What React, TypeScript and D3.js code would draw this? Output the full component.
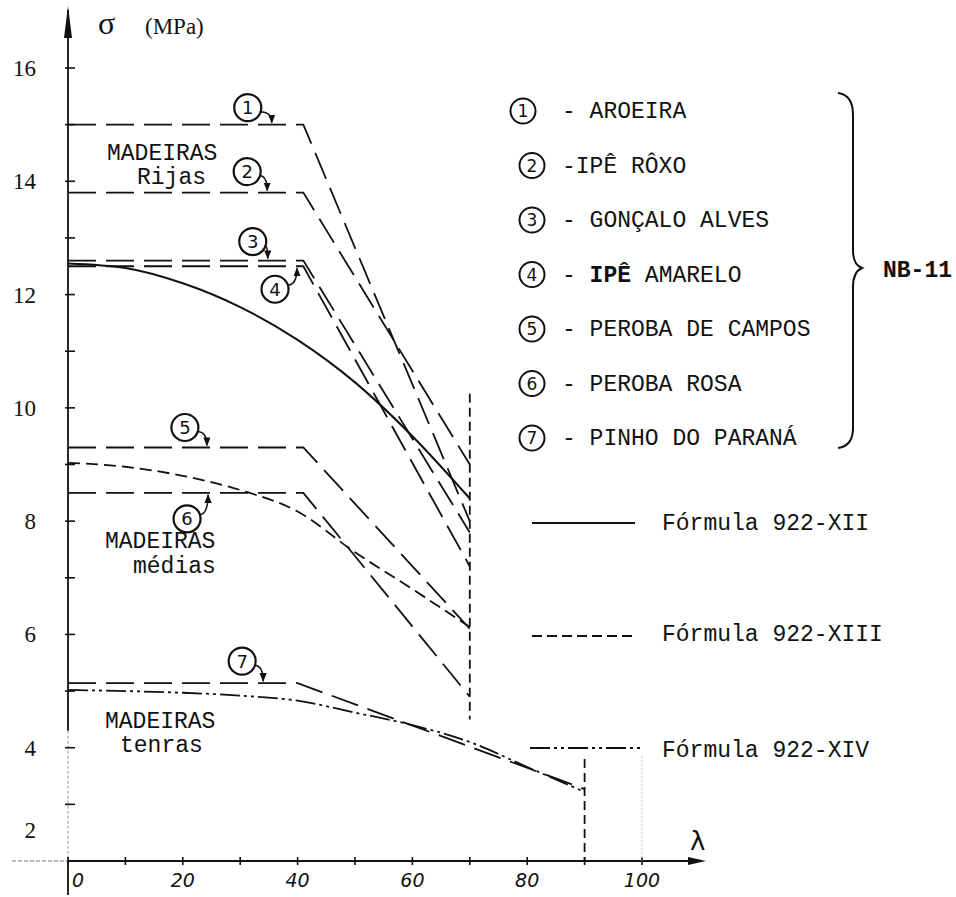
import React from "react";
import * as d3 from "d3";

// NB-11 species (long dashed lines): plateau, bend at lambda, end value
const species = ["AROEIRA", "IPÊ RÔXO", "GONÇALO ALVES", "IPÊ AMARELO", "PEROBA DE CAMPOS", "PEROBA ROSA", "PINHO DO PARANÁ"];
const plateau = [15.0, 13.8, 12.6, 12.5, 9.3, 8.5, 5.14];
const bendLambda = [41, 41, 41, 41, 41, 41, 40];
const endLambda = [70, 70, 70, 70, 70, 70, 90];
const endSigma = [8.0, 9.0, 7.8, 7.2, 6.1, 4.9, 3.27];

// formula curves
const lambdaF12 = [0, 10, 20, 30, 40, 50, 60, 70];
const sigmaF12 = [12.55, 12.47, 12.2, 11.78, 11.2, 10.45, 9.5, 8.4];
const lambdaF13 = [0, 10, 20, 30, 40, 50, 60, 70];
const sigmaF13 = [9.03, 8.96, 8.8, 8.55, 8.17, 7.45, 6.8, 6.13];
const lambdaF14 = [0, 10, 20, 30, 40, 50, 60, 70, 80, 90];
const sigmaF14 = [5.02, 5.0, 4.97, 4.92, 4.83, 4.62, 4.4, 4.1, 3.66, 3.22];

const yTickLabels = [2, 4, 6, 8, 10, 12, 14, 16];
const xTickLabels = [0, 20, 40, 60, 80, 100];
const formulas = ["Fórmula 922-XII", "Fórmula 922-XIII", "Fórmula 922-XIV"];

const mono = "'Liberation Mono', 'DejaVu Sans Mono', monospace";
const serif = "'Liberation Serif', 'DejaVu Serif', serif";
const ink = "#111";

export default function App() {
  const W = 956, H = 897;
  const x = d3.scaleLinear().domain([0, 100]).range([68, 642]);
  const y = d3.scaleLinear().domain([2, 16]).range([861, 68]);
  const straight = d3.line<[number, number]>().x(d => x(d[0])).y(d => y(d[1]));
  const smooth = d3.line<[number, number]>().x(d => x(d[0])).y(d => y(d[1])).curve(d3.curveMonotoneX);

  const x0 = x(0), yAxis = y(2);

  // circled number callouts: [tip lambda, circle dx, circle dy]
  const callouts: [number, number, number][] = [
    [35.5, -24, -15], [34.7, -20, -19], [34.8, -15, -17], [39.9, -22, 21],
    [24.2, -22, -18], [24.4, -21, 24], [34, -21, -20],
  ];

  return (
    <svg width={W} height={H} style={{ position: "absolute", left: 0, top: 0, display: "block", background: "#fff" }}>
      <defs>
        <marker id="ah" viewBox="0 0 10 10" refX="9" refY="5" markerWidth="6" markerHeight="6" orient="auto">
          <path d="M0,1 L10,5 L0,9 Z" fill={ink} />
        </marker>
      </defs>

      {/* y axis */}
      <line x1={x0} x2={x0} y1={10} y2={y(4.3)} stroke={ink} strokeWidth={1.8} />
      <line x1={x0} x2={x0} y1={y(4.3)} y2={yAxis} stroke="#999" strokeWidth={1} strokeDasharray="3,2" />
      <line x1={x0} x2={x0} y1={yAxis} y2={895} stroke={ink} strokeWidth={1.8} />
      <path d={`M${x0},6 L${x0 - 4},38 L${x0 + 4},38 Z`} fill={ink} />
      {d3.range(3, 17).map(v => (
        <line key={v} x1={x0 - 3} x2={x0 + 7} y1={y(v)} y2={y(v)} stroke={ink} strokeWidth={1.6} />
      ))}
      {yTickLabels.map(v => (
        <text key={v} x={36} y={y(v) + (v === 2 ? -31 : 0)} dy="0.35em" textAnchor="end"
          fontFamily={serif} fontSize={23} fill={ink}>{v}</text>
      ))}
      <text x={98} y={34} fontFamily={serif} fontSize={32} fill={ink}>σ</text>
      <text x={145} y={34} fontFamily={serif} fontSize={23} fill={ink}>(MPa)</text>

      {/* x axis */}
      <line x1={12} x2={x0} y1={yAxis} y2={yAxis} stroke="#777" strokeWidth={1.2} strokeDasharray="4,2" />
      <line x1={x0} x2={700} y1={yAxis} y2={yAxis} stroke={ink} strokeWidth={1.8} />
      <path d={`M706,${yAxis} L688,${yAxis - 4} L688,${yAxis + 4} Z`} fill={ink} />
      {d3.range(0, 101, 10).map(v => (
        <line key={v} x1={x(v)} x2={x(v)} y1={yAxis - 4} y2={yAxis + 4} stroke={ink} strokeWidth={1.6} />
      ))}
      {xTickLabels.map(v => (
        <text key={v} x={v === 0 ? x(v) + 4 : x(v)} y={887} textAnchor={v === 0 ? "start" : "middle"}
          fontFamily="'DejaVu Sans', sans-serif" fontStyle="italic" fontWeight={300} fontSize={19} fill={ink}>{v}</text>
      ))}
      <text x={690} y={850} fontFamily="'DejaVu Sans', sans-serif" fontSize={26} fill={ink}>λ</text>

      {/* vertical limit lines */}
      <line x1={x(70)} x2={x(70)} y1={y(10.25)} y2={y(4.5)} stroke={ink} strokeWidth={1.8} strokeDasharray="9,5" />
      <line x1={x(90)} x2={x(90)} y1={y(3.8)} y2={yAxis} stroke={ink} strokeWidth={1.8} strokeDasharray="9,5" />
      <line x1={x(100)} x2={x(100)} y1={y(3.85)} y2={yAxis} stroke="#bbb" strokeWidth={1} strokeDasharray="2,2" />

      {/* NB-11 lines */}
      {species.map((s, i) => (
        <path key={s}
          d={straight([[0, plateau[i]], [bendLambda[i], plateau[i]], [endLambda[i], endSigma[i]]]) || ""}
          fill="none" stroke={ink} strokeWidth={1.8} strokeDasharray="28,10" />
      ))}

      {/* formula curves */}
      <path d={smooth(lambdaF12.map((l, i) => [l, sigmaF12[i]] as [number, number])) || ""}
        fill="none" stroke={ink} strokeWidth={2} />
      <path d={smooth(lambdaF13.map((l, i) => [l, sigmaF13[i]] as [number, number])) || ""}
        fill="none" stroke={ink} strokeWidth={1.8} strokeDasharray="12,6" />
      <path d={smooth(lambdaF14.map((l, i) => [l, sigmaF14[i]] as [number, number])) || ""}
        fill="none" stroke={ink} strokeWidth={1.8} strokeDasharray="20,4,3,4,3,4" />

      {/* callouts */}
      {callouts.map(([tl, dx, dy], i) => {
        const tx = x(tl), ty = y(plateau[i]) + (dy > 0 ? 2 : -2);
        const cx = tx + dx, cy = ty + dy;
        const sx = cx + 12, sy = cy + (dy > 0 ? -4 : 4);
        return (
          <g key={i}>
            <circle cx={cx} cy={cy} r={13.5} fill="none" stroke={ink} strokeWidth={2.2} />
            <text x={cx} y={cy} dy="0.36em" textAnchor="middle" fontFamily="'DejaVu Sans', sans-serif"
              fontSize={18} fill={ink}>{i + 1}</text>
            <path d={`M${sx},${sy} Q${tx},${sy} ${tx},${ty}`} fill="none" stroke={ink} strokeWidth={1.5} markerEnd="url(#ah)" />
          </g>
        );
      })}

      {/* region labels */}
      <g fontFamily={mono} fontSize={23} fill={ink}>
        <text x={107} y={160}>MADEIRAS</text>
        <text x={137} y={184}>Rijas</text>
        <text x={105} y={548}>MADEIRAS</text>
        <text x={133} y={573}>médias</text>
        <text x={105} y={728}>MADEIRAS</text>
        <text x={120} y={752}>tenras</text>
      </g>

      {/* species legend */}
      <g fontFamily={mono} fontSize={23} fill={ink}>
        {species.map((s, i) => {
          const by = 118 + i * 54.5;
          const cx = i === 0 ? 523 : 532;
          return (
            <g key={s}>
              <circle cx={cx} cy={by - 7} r={12.5} fill="none" stroke={ink} strokeWidth={2} />
              <text x={cx} y={by - 7} dy="0.36em" textAnchor="middle" fontFamily="'DejaVu Sans', sans-serif" fontSize={17}>{i + 1}</text>
              {i === 3 ? (
                <text x={562} y={by}>- <tspan fontWeight="bold">IPÊ</tspan> AMARELO</text>
              ) : (
                <text x={562} y={by}>{i === 1 ? "-" + s : "- " + s}</text>
              )}
            </g>
          );
        })}
        <path d="M838,93 Q853,95 853,115 L853,250 Q853,265 862,268 Q853,272 853,287 L853,428 Q853,446 838,448"
          fill="none" stroke={ink} strokeWidth={2} />
        <text x={883} y={277} fontWeight="bold">NB-11</text>
      </g>

      {/* formula legend */}
      <g fontFamily={mono} fontSize={23} fill={ink}>
        <line x1={532} x2={635} y1={523} y2={523} stroke={ink} strokeWidth={2} />
        <line x1={532} x2={637} y1={636} y2={636} stroke={ink} strokeWidth={1.8} strokeDasharray="10,5" />
        <line x1={530} x2={642} y1={748} y2={748} stroke={ink} strokeWidth={1.8} strokeDasharray="20,4,3,4,3,4" />
        <text x={662} y={530}>{formulas[0]}</text>
        <text x={662} y={641}>{formulas[1]}</text>
        <text x={662} y={757}>{formulas[2]}</text>
      </g>
    </svg>
  );
}
